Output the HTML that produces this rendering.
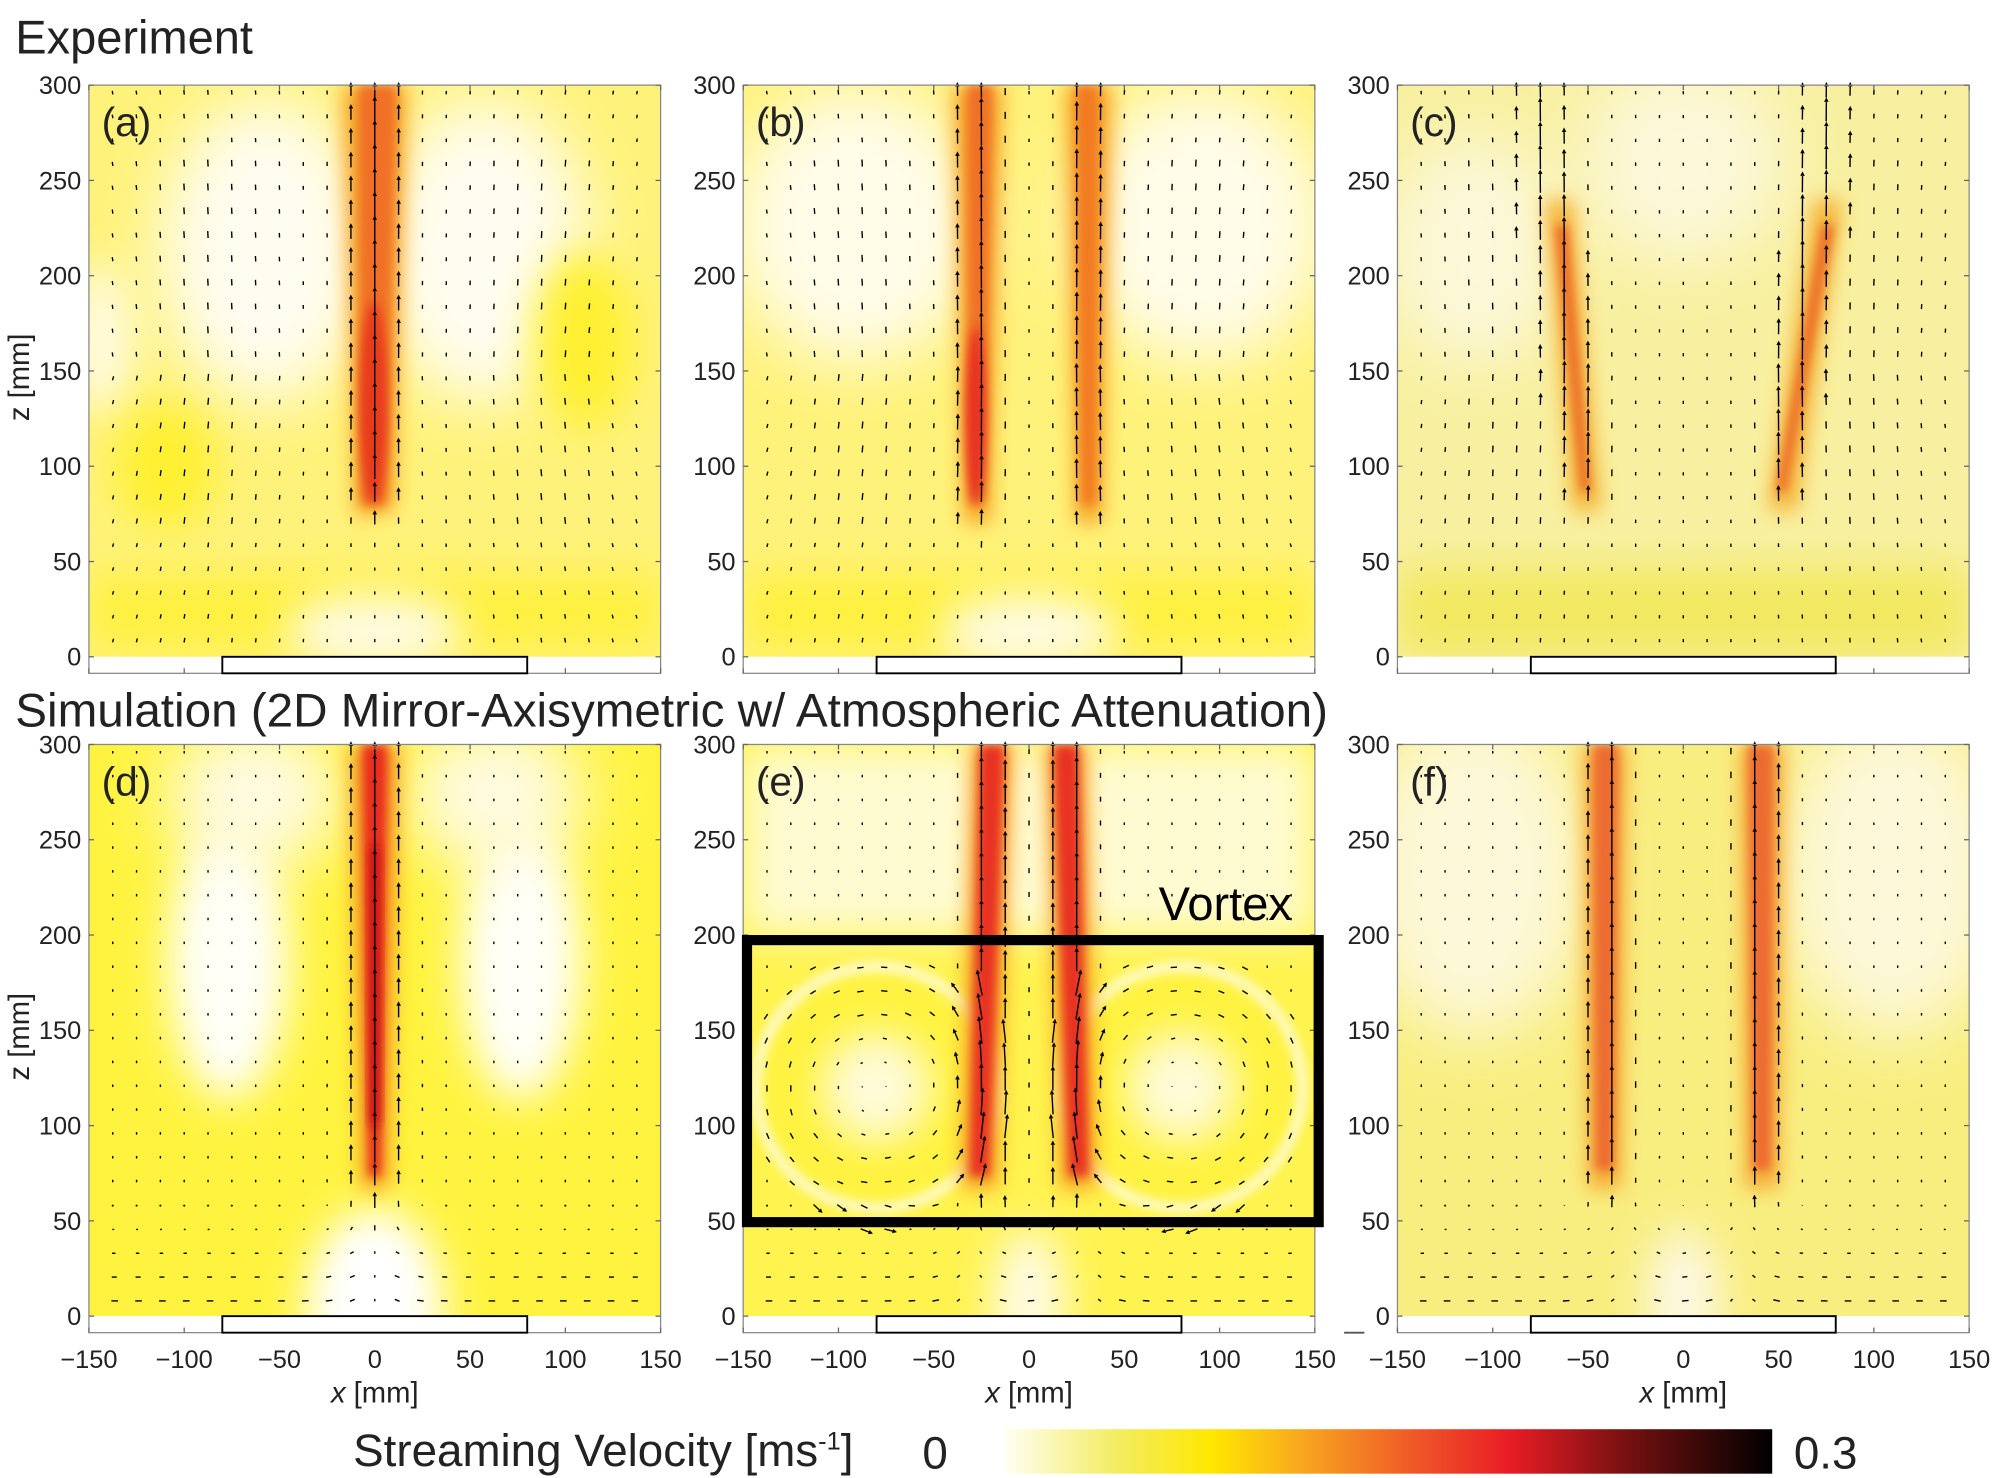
<!DOCTYPE html>
<html><head><meta charset="utf-8"><style>
html,body{margin:0;padding:0;background:#fff;}
svg{display:block;}
text{font-family:"Liberation Sans",sans-serif;fill:#222;}
.tk{font-size:20px;}
.serif{font-family:"Liberation Serif",serif;}
</style></head><body>
<svg id="s" width="1992" height="1478" viewBox="0 0 1568 1163.4" xmlns="http://www.w3.org/2000/svg">
<defs>
<filter id="b4" x="-50%" y="-50%" width="200%" height="200%"><feGaussianBlur stdDeviation="4"/></filter>
<filter id="b8" x="-50%" y="-50%" width="200%" height="200%"><feGaussianBlur stdDeviation="8"/></filter>
<filter id="b16" x="-50%" y="-50%" width="200%" height="200%"><feGaussianBlur stdDeviation="16"/></filter>
<filter id="b25" x="-50%" y="-50%" width="200%" height="200%"><feGaussianBlur stdDeviation="25"/></filter>
<clipPath id="cp"><rect x="0" y="0" width="450" height="450"/></clipPath>
<linearGradient id="cb" x1="0" x2="1" y1="0" y2="0">
<stop offset="0" stop-color="#fffff4"/><stop offset="0.15" stop-color="#f3ec60"/><stop offset="0.27" stop-color="#ffe800"/>
<stop offset="0.4" stop-color="#f7a020"/><stop offset="0.55" stop-color="#ee5028"/><stop offset="0.66" stop-color="#e81c24"/>
<stop offset="0.82" stop-color="#701010"/><stop offset="1" stop-color="#000"/></linearGradient>
</defs>

<text x="12" y="42" style="font-size:37px">Experiment</text>
<text x="12" y="572" style="font-size:37.5px">Simulation (2D Mirror-Axisymetric w/ Atmospheric Attenuation)</text>

<!-- Panel a -->
<g transform="translate(70,67)"><g clip-path="url(#cp)">
<rect width="450" height="450" fill="#fff27a"/>
<ellipse cx="140" cy="130" rx="85" ry="120" fill="#fffdf0" filter="url(#b25)"/>
<ellipse cx="310" cy="130" rx="85" ry="120" fill="#fffdf0" filter="url(#b25)"/>
<ellipse cx="10" cy="200" rx="25" ry="60" fill="#fffbe0" filter="url(#b16)"/>
<rect x="0" y="385" width="450" height="60" fill="#fff040" filter="url(#b16)"/>
<ellipse cx="225" cy="430" rx="70" ry="30" fill="#fffbe0" filter="url(#b16)"/>
<ellipse cx="60" cy="300" rx="40" ry="50" fill="#fff030" filter="url(#b16)"/>
<ellipse cx="390" cy="200" rx="40" ry="70" fill="#fff030" filter="url(#b16)"/>
<polygon points="200,0 250,0 240,335 210,340" fill="#f6a020" filter="url(#b8)"/>
<polygon points="212,0 242,0 234,330 214,330" fill="#f07028" filter="url(#b4)"/>
<ellipse cx="224" cy="250" rx="11" ry="80" fill="#e83a1c" filter="url(#b4)"/>
</g></g>
<!-- Panel b -->
<g transform="translate(585,67)"><g clip-path="url(#cp)">
<rect width="450" height="450" fill="#fff27a"/>
<ellipse cx="90" cy="110" rx="100" ry="110" fill="#fffce8" filter="url(#b25)"/>
<ellipse cx="360" cy="110" rx="100" ry="110" fill="#fffce8" filter="url(#b25)"/>
<rect x="0" y="385" width="450" height="60" fill="#fff040" filter="url(#b16)"/>
<ellipse cx="225" cy="430" rx="70" ry="30" fill="#fffbe0" filter="url(#b16)"/>
<polygon points="166,0 204,0 194,345 174,345" fill="#f6a020" filter="url(#b8)"/>
<polygon points="176,0 196,0 190,330 178,330" fill="#f07028" filter="url(#b4)"/>
<ellipse cx="183" cy="260" rx="8" ry="70" fill="#e83020" filter="url(#b4)"/>
<polygon points="254,0 290,0 282,345 262,345" fill="#f6a020" filter="url(#b8)"/>
<polygon points="262,0 280,0 278,330 266,330" fill="#f27a22" filter="url(#b4)"/>
</g></g>
<!-- Panel c -->
<g transform="translate(1100,67)"><g clip-path="url(#cp)">
<rect width="450" height="450" fill="#f8f0a0"/>
<ellipse cx="60" cy="130" rx="70" ry="90" fill="#fcf8d8" filter="url(#b25)"/>
<ellipse cx="225" cy="60" rx="80" ry="80" fill="#fcf8d8" filter="url(#b25)"/>
<rect x="0" y="380" width="450" height="70" fill="#f2e860" filter="url(#b16)"/>
<polygon points="116,90 138,90 160,335 138,335" fill="#f5b030" filter="url(#b8)"/>
<polygon points="124,110 134,110 152,320 144,320" fill="#ec6a28" filter="url(#b4)"/>
<polygon points="328,90 350,90 314,335 292,335" fill="#f5b030" filter="url(#b8)"/>
<polygon points="334,110 344,110 306,320 298,320" fill="#ec6a28" filter="url(#b4)"/>
</g></g>
<!-- Panel d -->
<g transform="translate(70,586)"><g clip-path="url(#cp)">
<rect width="450" height="450" fill="#fff340"/>
<ellipse cx="110" cy="170" rx="48" ry="110" fill="#fffff8" filter="url(#b16)"/>
<ellipse cx="340" cy="170" rx="48" ry="110" fill="#fffff8" filter="url(#b16)"/>
<ellipse cx="130" cy="40" rx="70" ry="60" fill="#fffbe0" filter="url(#b25)"/>
<ellipse cx="320" cy="40" rx="70" ry="60" fill="#fffbe0" filter="url(#b25)"/>
<ellipse cx="225" cy="445" rx="55" ry="80" fill="#ffffff" filter="url(#b16)"/>
<polygon points="205,0 245,0 236,350 214,350" fill="#f6a020" filter="url(#b8)"/>
<polygon points="215,0 235,0 230,340 220,340" fill="#e82a1c" filter="url(#b4)"/>
<rect x="221" y="80" width="8" height="220" fill="#c81818" filter="url(#b4)"/>
</g></g>
<!-- Panel e -->
<g transform="translate(585,586)"><g clip-path="url(#cp)">
<rect width="450" height="450" fill="#fff350"/>
<rect x="0" y="0" width="450" height="150" fill="#fffbd0" filter="url(#b16)"/>
<circle cx="105" cy="270" r="68" fill="none" stroke="#fff230" stroke-width="26" filter="url(#b16)"/>
<circle cx="345" cy="270" r="68" fill="none" stroke="#fff230" stroke-width="26" filter="url(#b16)"/>
<circle cx="105" cy="270" r="42" fill="#fffbd8" filter="url(#b16)"/>
<circle cx="345" cy="270" r="42" fill="#fffbd8" filter="url(#b16)"/>
<circle cx="105" cy="270" r="95" fill="none" stroke="#fffce0" stroke-width="7" filter="url(#b4)"/>
<circle cx="345" cy="270" r="95" fill="none" stroke="#fffce0" stroke-width="7" filter="url(#b4)"/>
<ellipse cx="225" cy="440" rx="30" ry="60" fill="#fffbe0" filter="url(#b16)"/>
<polygon points="180,0 212,0 200,350 172,350" fill="#f6a020" filter="url(#b8)"/>
<polygon points="186,0 206,0 194,340 178,340" fill="#e83020" filter="url(#b4)"/>
<polygon points="238,0 270,0 278,350 250,350" fill="#f6a020" filter="url(#b8)"/>
<polygon points="244,0 264,0 272,340 256,340" fill="#e83020" filter="url(#b4)"/>
</g></g>
<!-- Panel f -->
<g transform="translate(1100,586)"><g clip-path="url(#cp)">
<rect width="450" height="450" fill="#f8ee80"/>
<ellipse cx="60" cy="100" rx="90" ry="130" fill="#fdf8d8" filter="url(#b25)"/>
<ellipse cx="390" cy="100" rx="90" ry="130" fill="#fdf8d8" filter="url(#b25)"/>
<ellipse cx="225" cy="440" rx="30" ry="60" fill="#fdf8e0" filter="url(#b16)"/>
<polygon points="146,0 180,0 176,350 150,350" fill="#f6a830" filter="url(#b8)"/>
<polygon points="154,0 174,0 170,335 156,335" fill="#ec6a30" filter="url(#b4)"/>
<polygon points="270,0 304,0 300,350 274,350" fill="#f6a830" filter="url(#b8)"/>
<polygon points="276,0 296,0 294,335 280,335" fill="#ec6a30" filter="url(#b4)"/>
</g></g>

<g id="arrows"></g>
<g id="axes"></g>

<!-- vortex box -->
<rect x="588" y="740" width="450" height="222" fill="none" stroke="#000" stroke-width="8"/>
<text x="912" y="724" style="font-size:37px;fill:#000">Vortex</text>

<!-- panel labels -->
<g style="font-size:32px">
<text x="80" y="107">(a)</text><text x="595" y="107">(b)</text><text x="1110" y="107">(c)</text>
<text x="80" y="626">(d)</text><text x="595" y="626">(e)</text><text x="1110" y="626">(f)</text>
</g>

<!-- y tick labels -->
<g class="tk" text-anchor="end">
<text x="64" y="74">300</text><text x="64" y="149">250</text><text x="64" y="224">200</text><text x="64" y="299">150</text><text x="64" y="374">100</text><text x="64" y="449">50</text><text x="64" y="524">0</text>
<text x="579" y="74">300</text><text x="579" y="149">250</text><text x="579" y="224">200</text><text x="579" y="299">150</text><text x="579" y="374">100</text><text x="579" y="449">50</text><text x="579" y="524">0</text>
<text x="1094" y="74">300</text><text x="1094" y="149">250</text><text x="1094" y="224">200</text><text x="1094" y="299">150</text><text x="1094" y="374">100</text><text x="1094" y="449">50</text><text x="1094" y="524">0</text>
<text x="64" y="593">300</text><text x="64" y="668">250</text><text x="64" y="743">200</text><text x="64" y="818">150</text><text x="64" y="893">100</text><text x="64" y="968">50</text><text x="64" y="1043">0</text>
<text x="579" y="593">300</text><text x="579" y="668">250</text><text x="579" y="743">200</text><text x="579" y="818">150</text><text x="579" y="893">100</text><text x="579" y="968">50</text><text x="579" y="1043">0</text>
<text x="1094" y="593">300</text><text x="1094" y="668">250</text><text x="1094" y="743">200</text><text x="1094" y="818">150</text><text x="1094" y="893">100</text><text x="1094" y="968">50</text><text x="1094" y="1043">0</text>
</g>
<!-- x tick labels -->
<g class="tk" text-anchor="middle">
<text x="70" y="1077">−150</text><text x="145" y="1077">−100</text><text x="220" y="1077">−50</text><text x="295" y="1077">0</text><text x="370" y="1077">50</text><text x="445" y="1077">100</text><text x="520" y="1077">150</text>
<text x="585" y="1077">−150</text><text x="660" y="1077">−100</text><text x="735" y="1077">−50</text><text x="810" y="1077">0</text><text x="885" y="1077">50</text><text x="960" y="1077">100</text><text x="1035" y="1077">150</text>
<text x="1100" y="1077">−150</text><text x="1175" y="1077">−100</text><text x="1250" y="1077">−50</text><text x="1325" y="1077">0</text><text x="1400" y="1077">50</text><text x="1475" y="1077">100</text><text x="1550" y="1077">150</text>
</g>
<g class="serif" style="font-size:23px" text-anchor="middle">
<text x="295" y="1104"><tspan font-style="italic">x</tspan> [mm]</text>
<text x="810" y="1104"><tspan font-style="italic">x</tspan> [mm]</text>
<text x="1325" y="1104"><tspan font-style="italic">x</tspan> [mm]</text>
<text transform="translate(23,297) rotate(-90)">z [mm]</text>
<text transform="translate(23,816) rotate(-90)">z [mm]</text>
</g>
<line x1="1058" y1="1049" x2="1074" y2="1049" stroke="#555" stroke-width="1.5"/>

<!-- colorbar -->
<text x="278" y="1154" style="font-size:36px">Streaming Velocity [ms<tspan dy="-13" style="font-size:20px">-1</tspan><tspan dy="13">]</tspan></text>
<text x="726" y="1156" style="font-size:36px">0</text>
<rect x="790" y="1125" width="605" height="35" fill="url(#cb)"/>
<text x="1412" y="1156" style="font-size:36px">0.3</text>
</svg>
<script>
(function(){
var NS="http://www.w3.org/2000/svg";
var A=document.getElementById('arrows'),X=document.getElementById('axes');
function el(p,t,a){var e=document.createElementNS(NS,t);for(var k in a)e.setAttribute(k,a[k]);p.appendChild(e);return e;}
var panels=[
 {ox:70,oy:67,jets:[{x:0,w:14,z0:70,s:14}],exp:1,tilt:1},
 {ox:585,oy:67,jets:[{x:-27,w:12,z0:65,s:13},{x:30,w:12,z0:65,s:11}],exp:1,tilt:1},
 {ox:1100,oy:67,jets:[{x:-58,w:12,z0:80,s:12,sl:-0.12},{x:58,w:12,z0:80,s:12,sl:0.12}],exp:1,tilt:0.5},
 {ox:70,oy:586,jets:[{x:0,w:14,z0:55,s:16}],sim:1},
 {ox:585,oy:586,jets:[{x:-20,w:12,z0:55,s:16},{x:20,w:12,z0:55,s:16}],sim:1,vort:[{x:-80,z:120,d:1},{x:80,z:120,d:-1}]},
 {ox:1100,oy:586,jets:[{x:-40,w:12,z0:60,s:15},{x:40,w:12,z0:60,s:15}],sim:1}
];
panels.forEach(function(P){
 for(var z=8;z<=296;z+=12.5){for(var x=-137.5;x<=140;x+=12.5){
  var u=0,w=0;
  P.jets.forEach(function(j){var jx=j.x+(j.sl||0)*(z-150);var d=(x-jx)/j.w;
    if(z>j.z0-15){var f=Math.exp(-d*d)*Math.min(1,(z-j.z0+15)/40);w+=j.s*f;}});
  if(P.exp){w+=2.5+3*Math.exp(-Math.pow((Math.abs(x)-90)/40,2))*(z>60&&z<260?1:0.4);u+=(x<0?1:-1)*0.02*Math.abs(x)*P.tilt*(z>150?-0.6:1)*0.3;}
  if(P.sim){
   if(z<60){var inw=(1-z/60)*6;var c=P.jets.length>1?(x<0?-30:30):0;u+=(x<c?1:-1)*Math.min(inw,Math.abs(x-c)*0.3);w+=2*Math.exp(-Math.pow((x-c)/25,2));}
   else w+=2;
   if(P.vort)P.vort.forEach(function(v){var dx=x-v.x,dz=z-v.z,r=Math.sqrt(dx*dx+dz*dz);if(r<75){var s=Math.min(r/40,1)*5;u+=-dz/(r||1)*s*v.d;w+=dx/(r||1)*s*v.d;w-=2;}});
  }
  var px=P.ox+(x+150)*1.5,py=P.oy+(300-z)*1.5;
  var L=Math.sqrt(u*u+w*w);if(L<0.5){el(A,'circle',{cx:px,cy:py,r:0.8,fill:'#000'});continue;}
  var x2=px+u*0.8,y2=py-w*0.8;if(y2<P.oy+1)y2=P.oy+1;
  el(A,'line',{x1:px-u*0.2,y1:py+w*0.2,x2:x2,y2:y2,stroke:'#000','stroke-width':1.1});
  if(L>6){var ux=u/L,uy=-w/L,h=3.5;
   el(A,'polygon',{points:(x2+ux*h)+','+(y2+uy*h)+' '+(x2-uy*1.8)+','+(y2+ux*1.8)+' '+(x2+uy*1.8)+','+(y2-ux*1.8),fill:'#000'});}
 }}
 var x0=P.ox,y0=P.oy,x1=P.ox+450,y1=P.oy+463;
 el(X,'rect',{x:x0,y:y0,width:450,height:463,fill:'none',stroke:'#888','stroke-width':1});
 for(var i=0;i<7;i++){var ty=y0+i*75;el(X,'line',{x1:x0,y1:ty,x2:x0+4,y2:ty,stroke:'#666'});el(X,'line',{x1:x1,y1:ty,x2:x1-4,y2:ty,stroke:'#666'});
  var tx=x0+i*75;el(X,'line',{x1:tx,y1:y1,x2:tx,y2:y1-4,stroke:'#666'});el(X,'line',{x1:tx,y1:y0,x2:tx,y2:y0+4,stroke:'#666'});}
 el(X,'rect',{x:x0+105,y:y0+450,width:240,height:13,fill:'#fff',stroke:'#000','stroke-width':1.5});
});
})();
</script>
</body></html>
